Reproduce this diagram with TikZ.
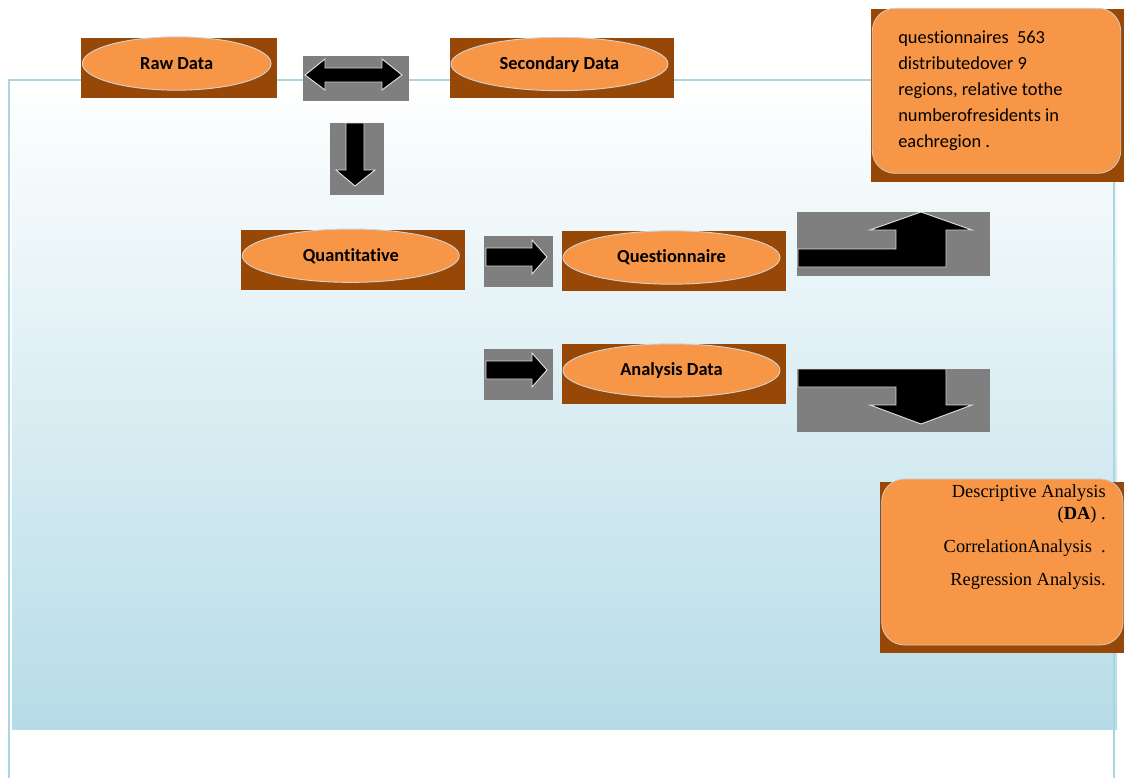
\documentclass[tikz,border=0pt]{standalone}
\usepackage{fontspec}
\setmainfont{Carlito}[Ligatures=NoCommon]
\newfontfamily\timesfont{Liberation Serif}
\usetikzlibrary{shapes.geometric}
\definecolor{boxbrown}{HTML}{974806}
\definecolor{boxorange}{HTML}{F79646}
\definecolor{arrowgray}{HTML}{7F7F7F}
\definecolor{paleblue}{HTML}{B6DCE7}
\definecolor{frameblue}{HTML}{A9D6E1}
\tikzset{
  plate/.style={fill=boxbrown},
  oval/.style={ellipse, fill=boxorange, draw=gray!35, line width=0.7pt, inner sep=0pt,
    minimum width=162.75pt, minimum height=40pt, font=\bfseries\fontsize{13.8}{16}\selectfont},
  pad/.style={fill=arrowgray},
  blk/.style={fill=black, draw=gray!25, line width=0.7pt},
  card/.style={fill=boxorange, draw=gray!40, line width=0.6pt, rounded corners=17pt},
}
\begin{document}
\begin{tikzpicture}[x=0.75pt, y=-0.75pt]
        \useasboundingbox (0,0) rectangle (1124,778);
        \shade[top color=white, bottom color=paleblue] (12,82) rectangle (1117,729);
        \draw[frameblue, line width=1.1pt] (9,778) -- (9,80) -- (1114,80) -- (1114,778);

        \fill[plate] (81,37.5) rectangle (277,97.5);
        \node[oval, minimum width=141.5pt] (raw) at (176.7,63.5) {Raw Data};
        \fill[plate] (450,38) rectangle (674,97.5);
        \node[oval] (secondary) at (559.5,64) {Secondary Data};
        \fill[plate] (241,230) rectangle (465,289.5);
        \node[oval] (quant) at (350.8,255.7) {Quantitative};
        \fill[plate] (562,231) rectangle (786,291);
        \node[oval] (quest) at (671.5,257.5) {Questionnaire};
        \fill[plate] (562,344) rectangle (786,404);
        \node[oval] (analysis) at (671.5,370.5) {Analysis Data};

        \fill[pad] (303,56) rectangle (409,101);
        \draw[blk] (305,75) -- (325,59) -- (325,68) -- (382,68) -- (382,59) -- (402,75)
            -- (382,90) -- (382,82) -- (325,82) -- (325,90) -- cycle;
        \fill[pad] (330,123) rectangle (384,195);
        \draw[blk] (346,123) -- (364,123) -- (364,170) -- (375,170) -- (355,186) -- (336,170)
            -- (346,170) -- cycle;
        \fill[pad] (484,236) rectangle (553,287);
        \draw[blk] (486,248) -- (532,248) -- (532,240) -- (547,257) -- (532,274) -- (532,266)
            -- (486,266) -- cycle;
        \fill[pad] (484,349) rectangle (553,400);
        \draw[blk] (486,361) -- (532,361) -- (532,353) -- (547,370) -- (532,387) -- (532,379)
            -- (486,379) -- cycle;
        \fill[pad] (797,212) rectangle (990,276);
        \draw[blk] (798,249) -- (896,249) -- (896,230) -- (870,230) -- (921,212) -- (972,230)
            -- (946,230) -- (946,267) -- (798,267) -- cycle;
        \fill[pad] (797,369) rectangle (990,432);
        \draw[blk] (798,369) -- (946,369) -- (946,405) -- (972,405) -- (921,424) -- (870,405)
            -- (896,405) -- (896,387) -- (798,387) -- cycle;

        \fill[plate] (871,9) rectangle (1124,181.7);
        \draw[card] (872.3,8.3) rectangle (1120.7,173.3);
        \node[anchor=north west, inner sep=0pt, align=left,
            font=\fontsize{13.8}{19.4}\selectfont] (sample) at (898,31)
            {questionnaires\ \ 563\\distributedover 9\\regions, relative tothe\\numberofresidents in\\eachregion .};

        \fill[plate] (880,481.7) rectangle (1124,652.7);
        \draw[card] (881.7,479) rectangle (1123,645);
        \node[anchor=north east, inner sep=0pt, align=right,
            font=\timesfont\fontsize{13.8}{16.5}\selectfont] (methods) at (1106,484.8)
            {Descriptive Analysis\\(\textbf{DA}) .\\[8pt]CorrelationAnalysis\ \ .\\[8.2pt]Regression Analysis.};
    \end{tikzpicture}
\end{document}
